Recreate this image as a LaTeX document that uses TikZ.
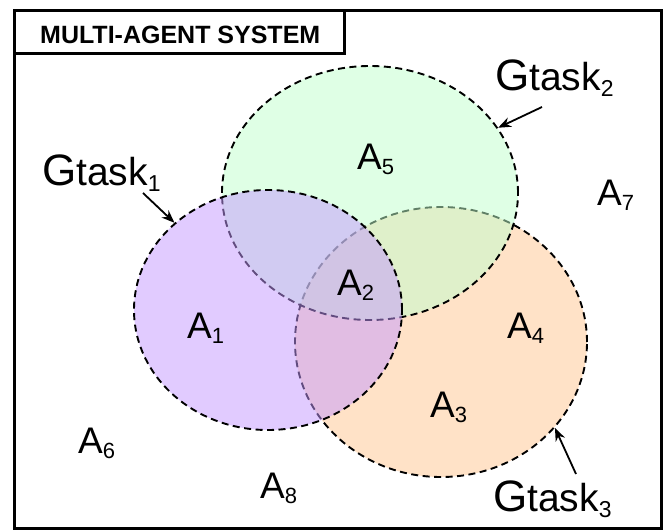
\documentclass[tikz,border=0pt]{standalone}
\usepackage{fontspec}
\setmainfont{Liberation Sans}
\usetikzlibrary{shapes.geometric,arrows.meta}
\definecolor{purpleF}{RGB}{197,153,255}
\definecolor{greenF}{RGB}{193,255,205}
\definecolor{orangeF}{RGB}{255,199,145}
\newcommand\agentlbl[1]{{\fontsize{37}{37}\selectfont A}{\fontsize{22}{22}\selectfont\raisebox{-5pt}{#1}}}
\newcommand\gtasklbl[1]{{\fontsize{44}{44}\selectfont G}{\fontsize{39}{39}\selectfont task}{\fontsize{23}{23}\selectfont\raisebox{-6pt}{#1}}}
\begin{document}
\begin{tikzpicture}[x=1pt,y=-1pt,
  region/.style={ellipse, draw=black, dash pattern=on 7pt off 4.5pt, line width=1.9pt, fill opacity=0.5, draw opacity=1, inner sep=0pt},
  lbl/.style={anchor=base west, inner sep=0pt},
  arr/.style={-{Stealth[length=13pt,width=10pt]}, line width=1.8pt},
  frame/.style={draw=black, line width=3.2pt}]
\useasboundingbox (0,0) rectangle (665,531);
\fill[white] (0,0) rectangle (665,531);
% regions (bottom to top)
\node[region, fill=orangeF, minimum width=292pt, minimum height=270pt] (t3) at (441,342) {};
\node[region, fill=greenF, minimum width=296pt, minimum height=254pt] (t2) at (370,193) {};
\node[region, fill=purpleF, minimum width=268pt, minimum height=240pt] (t1) at (268,310) {};
% frame and title
\node[frame, draw, minimum width=647pt, minimum height=518pt, anchor=north west, inner sep=0pt] (mas) at (13,9) {};
\node[draw=black, line width=2.8pt, minimum width=330pt, minimum height=43pt, anchor=north west, inner sep=0pt] (titlebox) at (13,9) {};
\node[lbl] (title) at (40,43) {\fontsize{25}{25}\selectfont\bfseries MULTI-AGENT SYSTEM};
% agents
\node[lbl] (a1) at (187,338) {\agentlbl{1}};
\node[lbl] (a2) at (337,295) {\agentlbl{2}};
\node[lbl] (a3) at (430,417) {\agentlbl{3}};
\node[lbl] (a4) at (507,338) {\agentlbl{4}};
\node[lbl] (a5) at (357,169) {\agentlbl{5}};
\node[lbl] (a6) at (78,453) {\agentlbl{6}};
\node[lbl] (a7) at (597,205) {\agentlbl{7}};
\node[lbl] (a8) at (260,498) {\agentlbl{8}};
% task labels
\node[lbl] (g1) at (42,185) {\gtasklbl{1}};
\node[lbl] (g2) at (495,90) {\gtasklbl{2}};
\node[lbl] (g3) at (493,511) {\gtasklbl{3}};
\coordinate (s1) at (143,193);
\coordinate (s2) at (542,107);
\coordinate (s3) at (576,474);
\draw[arr] (s1) -- (t1.137.8);
\draw[arr] (s2) -- (t2.27.1);
\draw[arr] (s3) -- (t3.-37.8);
\end{tikzpicture}
\end{document}
